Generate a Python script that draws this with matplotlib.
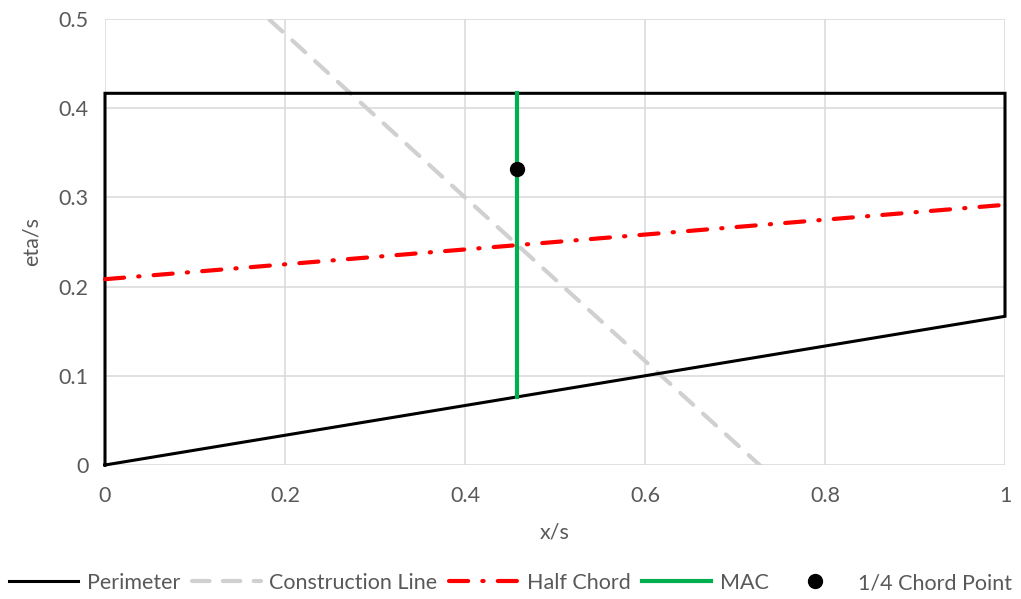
import matplotlib
matplotlib.use("Agg")
import matplotlib.pyplot as plt
import numpy as np

plt.rcParams['font.family'] = ['Lato', 'DejaVu Sans']

# Wing planform in nondimensional coordinates
perimeter_x = [0, 1, 1, 0, 0]
perimeter_y = [0, 0.1667, 0.4167, 0.4167, 0]

construction_x = [0, 1]
construction_y = [0.6667, -0.25]

half_chord_x = [0, 1]
half_chord_y = [0.2083, 0.2917]

mac_x = [0.4583, 0.4583]
mac_y = [0.0764, 0.4167]

quarter_x = [0.4583]
quarter_y = [0.3316]

x_ticks = [0, 0.2, 0.4, 0.6, 0.8, 1]
x_tick_labels = ['0', '0.2', '0.4', '0.6', '0.8', '1']
y_ticks = [0, 0.1, 0.2, 0.3, 0.4, 0.5]
y_tick_labels = ['0', '0.1', '0.2', '0.3', '0.4', '0.5']

fig = plt.figure(figsize=(10.21, 5.99), dpi=100)
ax = fig.add_axes([105/1021, 1 - 465/599, 900/1021, 446/599])

grid_c = '#D9D9D9'
text_c = '#595959'

ax.set_xlim(0, 1)
ax.set_ylim(0, 0.5)
ax.set_xticks(x_ticks)
ax.set_xticklabels(x_tick_labels)
ax.set_yticks(y_ticks)
ax.set_yticklabels(y_tick_labels)
ax.grid(True, color=grid_c, linewidth=1.1, zorder=0)
ax.set_axisbelow(True)
for s in ax.spines.values():
    s.set_visible(False)
ax.tick_params(length=0, labelsize=15.5, labelcolor=text_c, pad=12)
ax.tick_params(axis='x', pad=15)

ax.plot(perimeter_x, perimeter_y, color='black', linewidth=2.2,
        solid_joinstyle='miter', zorder=3, label='Perimeter', clip_on=False)
ax.plot(construction_x, construction_y, color='#D0D0D0', linewidth=3.0,
        dashes=(4.2, 3.2), dash_capstyle='round', zorder=2,
        label='Construction Line')
ax.plot(half_chord_x, half_chord_y, color='#FF0000', linewidth=3.0,
        dashes=(4.6, 3.4, 0.3, 3.4), dash_capstyle='round', zorder=4,
        label='Half Chord', clip_on=False)
ax.plot(mac_x, mac_y, color='#00B050', linewidth=3.0, zorder=3.5,
        label='MAC')
ax.plot(quarter_x, quarter_y, linestyle='none', marker='o', markersize=10,
        color='black', zorder=5, label='1/4 Chord Point')

ax.set_xlabel('x/s', fontsize=15.5, color=text_c, labelpad=12)
ax.set_ylabel('eta/s', fontsize=15.5, color=text_c, labelpad=12)

handles, labels = ax.get_legend_handles_labels()
leg = fig.legend(handles, labels, loc='center', bbox_to_anchor=(0.5, 1 - 583/599),
                 ncol=5, frameon=False, fontsize=15.5, handlelength=3.2,
                 columnspacing=0.55, handletextpad=0.4, borderpad=0,
                 borderaxespad=0)
for t in leg.get_texts():
    t.set_color(text_c)

fig.savefig('out.png', dpi=100)
